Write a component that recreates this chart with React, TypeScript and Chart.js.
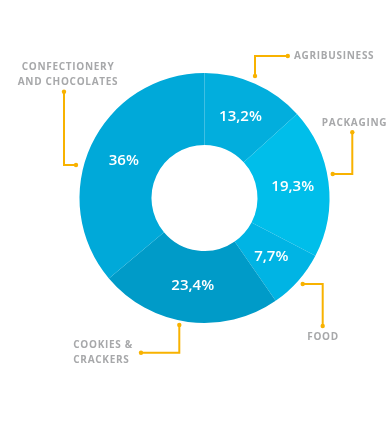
import React, { useEffect, useRef } from "react";
import { Chart, registerables } from "chart.js";

Chart.register(...registerables);

const categories = [
  "AGRIBUSINESS",
  "PACKAGING",
  "FOOD",
  "COOKIES & CRACKERS",
  "CONFECTIONERY AND CHOCOLATES",
];
const values = [13.2, 19.3, 7.7, 23.4, 36];
const colors = ["#02AEDD", "#00BEEA", "#00B4E4", "#009BC8", "#00A9D9"];

// label annotation layout (offsets relative to doughnut centre)
const labelLines = [
  ["AGRIBUSINESS"],
  ["PACKAGING"],
  ["FOOD"],
  ["COOKIES &", "CRACKERS"],
  ["CONFECTIONERY", "AND CHOCOLATES"],
];
const leaderPaths = [
  [[83.3, -142], [50.5, -142], [50.5, -122]],
  [[147.8, -65.7], [147.8, -24], [128.2, -24]],
  [[98.2, 86], [118.2, 86], [118.2, 128]],
  [[-25.2, 127], [-25.2, 154.7], [-63.5, 154.7]],
  [[-140.5, -106.3], [-140.5, -33], [-128.5, -33]],
];
const labelAnchors = [
  { x: 89.5, y: -142, align: "left" },
  { x: 150, y: -74.7, align: "center" },
  { x: 118.5, y: 139, align: "center" },
  { x: -131.2, y: 147, align: "left" },
  { x: -136.5, y: -131.3, align: "center" },
];

const annotPlugin = {
  id: "annot",
  afterDraw(chart: any) {
    const ctx = chart.ctx;
    const meta = chart.getDatasetMeta(0);
    const arc0: any = meta.data[0];
    const cx = arc0.x;
    const cy = arc0.y;
    ctx.save();
    // percentages
    ctx.fillStyle = "#FFFFFF";
    ctx.font = "600 15px 'Open Sans'";
    ctx.textAlign = "center";
    ctx.textBaseline = "middle";
    meta.data.forEach((arc: any, i: number) => {
      const p = arc.tooltipPosition();
      const txt = String(values[i]).replace(".", ",") + "%";
      ctx.fillText(txt, p.x, p.y);
    });
    // leaders
    ctx.strokeStyle = "#F8B200";
    ctx.fillStyle = "#F8B200";
    ctx.lineWidth = 2;
    leaderPaths.forEach((path) => {
      ctx.beginPath();
      path.forEach((pt, j) => {
        const x = cx + pt[0];
        const y = cy + pt[1];
        if (j === 0) ctx.moveTo(x, y);
        else ctx.lineTo(x, y);
      });
      ctx.stroke();
      [path[0], path[path.length - 1]].forEach((pt) => {
        ctx.beginPath();
        ctx.arc(cx + pt[0], cy + pt[1], 2.2, 0, Math.PI * 2);
        ctx.fill();
      });
    });
    // category labels
    ctx.fillStyle = "#A7A8AA";
    ctx.font = "700 10px 'Open Sans'";
    (ctx as any).letterSpacing = "0.7px";
    ctx.textBaseline = "middle";
    labelLines.forEach((lines, i) => {
      const a = labelAnchors[i];
      ctx.textAlign = a.align as CanvasTextAlign;
      lines.forEach((ln, k) => {
        ctx.fillText(ln, cx + a.x, cy + a.y + k * 15.2);
      });
    });
    ctx.restore();
  },
};

export default function App() {
  const ref = useRef<HTMLCanvasElement>(null);
  useEffect(() => {
    document.body.style.margin = "0";
    const chart = new Chart(ref.current!, {
      type: "doughnut",
      data: {
        labels: categories,
        datasets: [
          {
            data: values,
            backgroundColor: colors,
            borderWidth: 0,
          },
        ],
      },
      options: {
        responsive: false,
        animation: false,
        cutout: "42.4%",
        layout: { padding: { left: 79.5, right: 60.5, top: 73, bottom: 117 } },
        plugins: {
          legend: { display: false },
          tooltip: { enabled: false },
        },
      },
      plugins: [annotPlugin],
    });
    return () => chart.destroy();
  }, []);
  return (
    <div style={{ width: 390, height: 440, background: "#FFFFFF" }}>
      <canvas ref={ref} width={390} height={440} />
    </div>
  );
}
